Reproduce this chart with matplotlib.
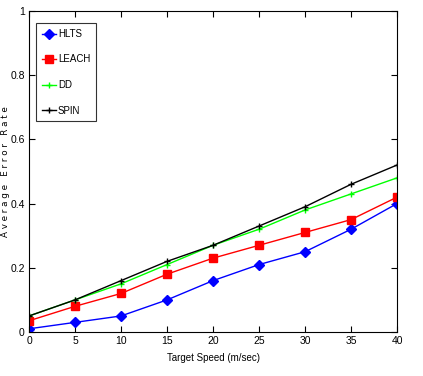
import matplotlib
matplotlib.use('Agg')
import matplotlib.pyplot as plt
from matplotlib import font_manager

# 数据
speed = [0, 5, 10, 15, 20, 25, 30, 35, 40]
hlts = [0.01, 0.03, 0.05, 0.10, 0.16, 0.21, 0.25, 0.32, 0.40]
leach = [0.035, 0.08, 0.12, 0.18, 0.23, 0.27, 0.31, 0.35, 0.42]
dd = [0.05, 0.10, 0.15, 0.21, 0.27, 0.32, 0.38, 0.43, 0.48]
spin = [0.05, 0.10, 0.16, 0.22, 0.27, 0.33, 0.39, 0.46, 0.52]

names = {f.name for f in font_manager.fontManager.ttflist}
narrow = 'Liberation Sans Narrow' if 'Liberation Sans Narrow' in names else 'Liberation Sans'
plt.rcParams['font.family'] = [narrow, 'DejaVu Sans']

fig = plt.figure(figsize=(4.23, 3.76), dpi=100)
ax = fig.add_axes([0.0686, 0.117, 0.87, 0.854])

ax.plot(speed, hlts, color='#0000ff', marker='D', markersize=5, lw=1, label='HLTS')
ax.plot(speed, leach, color='#ff0000', marker='s', markersize=6, lw=1, label='LEACH')
ax.plot(speed, dd, color='#00ff00', marker='+', markersize=4, lw=1, label='DD')
ax.plot(speed, spin, color='#000000', marker='+', markersize=4, lw=1, label='SPIN')

ax.set_xlim(0, 40)
ax.set_ylim(0, 1)
ax.set_xticks(speed)
ax.set_yticks([0, 0.2, 0.4, 0.6, 0.8, 1])
ax.set_yticklabels(['0', '0.2', '0.4', '0.6', '0.8', '1'])
ax.tick_params(direction='in', top=True, right=True, labelsize=7.5, length=4, pad=3)

ax.set_xlabel('Target Speed (m/sec)', fontsize=7, labelpad=5)
ax.set_ylabel('A v e r a g e   E r r o r   R a t e', fontsize=6.3, family='DejaVu Sans')
ax.yaxis.set_label_coords(-0.052, 0.5)

leg = ax.legend(loc='upper left', bbox_to_anchor=(0.019, 0.962), fontsize=7,
                frameon=True, fancybox=False, edgecolor='black', handlelength=1.5,
                borderpad=0.6, labelspacing=1.6, handletextpad=0.15, borderaxespad=0)
leg.get_frame().set_linewidth(0.8)

fig.savefig('out.png', dpi=100)
